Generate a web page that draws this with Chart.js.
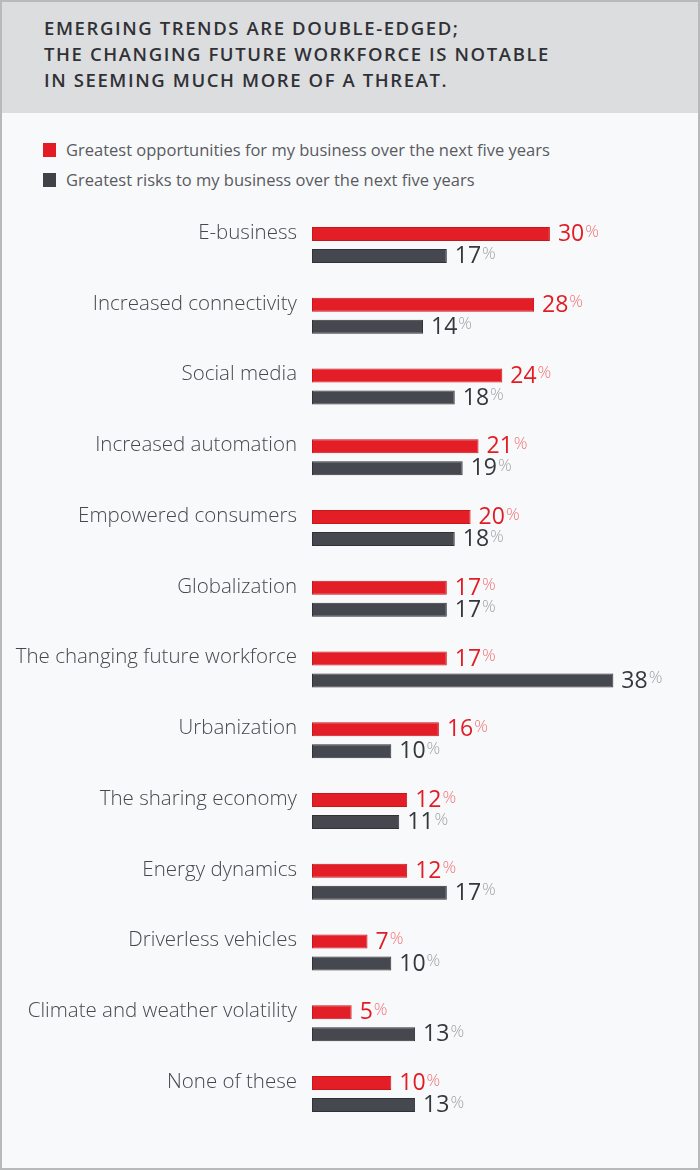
<!DOCTYPE html>
<html>
<head>
<meta charset="utf-8">
<script src="https://cdn.jsdelivr.net/npm/chart.js@4/dist/chart.umd.min.js"></script>
<style>
    body { margin: 0; width: 700px; height: 1170px; position: relative; font-family: "Open Sans", sans-serif; overflow: hidden; }
    .frame { position: absolute; left: 0; top: 0; width: 700px; height: 1170px; box-sizing: border-box; border: 2px solid #b8b9bb; background: #f8f9fb; }
    .header { position: absolute; left: 0; top: 0; width: 696px; height: 111px; background: #dcdddf; }
    .title { position: absolute; left: 44px; top: 15px; font-size: 18.5px; line-height: 26px; font-weight: 600; letter-spacing: 1.6px; color: #303136; white-space: nowrap; }
    .legend-row { position: absolute; left: 43px; height: 20px; line-height: 20px; font-size: 16.5px; color: #5a5b5f; }
    .legend-row span.box { position: absolute; left: 0; width: 13px; height: 14px; }
    .legend-row span.txt { position: absolute; left: 23px; white-space: nowrap; }
    #chart { position: absolute; left: 0; top: 200px; }
</style>
</head>
<body>
<div class="frame">
    <div class="header"></div>
</div>
<div class="title">EMERGING TRENDS ARE DOUBLE-EDGED;<br>THE CHANGING FUTURE WORKFORCE IS NOTABLE<br>IN SEEMING MUCH MORE OF A THREAT.</div>
<div class="legend-row" style="top:140px"><span class="box" style="top:3px;background:#e31c24"></span><span class="txt">Greatest opportunities for my business over the next five years</span></div>
<div class="legend-row" style="top:170px"><span class="box" style="top:3px;background:#3f4247"></span><span class="txt">Greatest risks to my business over the next five years</span></div>
<canvas id="chart" width="700" height="940"></canvas>
<script>
const categories = [
    "E-business",
    "Increased connectivity",
    "Social media",
    "Increased automation",
    "Empowered consumers",
    "Globalization",
    "The changing future workforce",
    "Urbanization",
    "The sharing economy",
    "Energy dynamics",
    "Driverless vehicles",
    "Climate and weather volatility",
    "None of these"
]
const opportunities = [30, 28, 24, 21, 20, 17, 17, 16, 12, 12, 7, 5, 10]
const risks = [17, 14, 18, 19, 18, 17, 38, 10, 11, 17, 10, 13, 13]
const seriesNames = [
    "Greatest opportunities for my business over the next five years",
    "Greatest risks to my business over the next five years"
]

// number + small % sign at the end of each bar
const valueLabels = {
    id: "valueLabels",
    afterDatasetsDraw(chart) {
        const ctx = chart.ctx
        const numColors = ["#e31c24", "#35373b"]
        const pctColors = ["#f0767a", "#a3a4a7"]
        chart.data.datasets.forEach((ds, i) => {
            const meta = chart.getDatasetMeta(i)
            meta.data.forEach((bar, j) => {
                const num = String(ds.data[j])
                const x = bar.x + 8
                const base = bar.y + bar.height / 2
                ctx.save()
                ctx.textBaseline = "alphabetic"
                ctx.textAlign = "left"
                ctx.font = "400 23px 'Open Sans'"
                ctx.fillStyle = numColors[i]
                ctx.fillText(num, x, base)
                const w = ctx.measureText(num).width
                ctx.font = "300 17px 'Open Sans'"
                ctx.fillStyle = pctColors[i]
                ctx.fillText("%", x + w + 1, base - 4.5)
                ctx.restore()
            })
        })
    }
}

new Chart(document.getElementById("chart"), {
    type: "bar",
    data: {
        labels: categories,
        datasets: [
            {
                label: seriesNames[0],
                data: opportunities,
                backgroundColor: "#e41e26",
                borderColor: "#c9161d",
                borderWidth: 1,
                borderSkipped: false,
                categoryPercentage: 0.622,
                barPercentage: 0.64
            },
            {
                label: seriesNames[1],
                data: risks,
                backgroundColor: "#45484e",
                borderColor: "#303237",
                borderWidth: 1,
                borderSkipped: false,
                categoryPercentage: 0.622,
                barPercentage: 0.64
            }
        ]
    },
    options: {
        indexAxis: "y",
        responsive: false,
        animation: false,
        devicePixelRatio: 1,
        layout: { padding: { top: 9.6, bottom: 10.6, left: 0, right: 70.8 } },
        plugins: {
            legend: { display: false },
            tooltip: { enabled: false }
        },
        scales: {
            x: {
                display: false,
                min: 0,
                max: 40
            },
            y: {
                afterFit(scale) {
                    scale.width = 312
                    scale.paddingTop = 0
                    scale.paddingBottom = 0
                },
                grid: { display: false, drawTicks: false },
                border: { display: false },
                ticks: {
                    padding: 15,
                    labelOffset: -12,
                    color: "#47484c",
                    font: { family: "'Open Sans'", size: 20.5, weight: "300" }
                }
            }
        }
    },
    plugins: [valueLabels]
})
</script>
</body>
</html>
